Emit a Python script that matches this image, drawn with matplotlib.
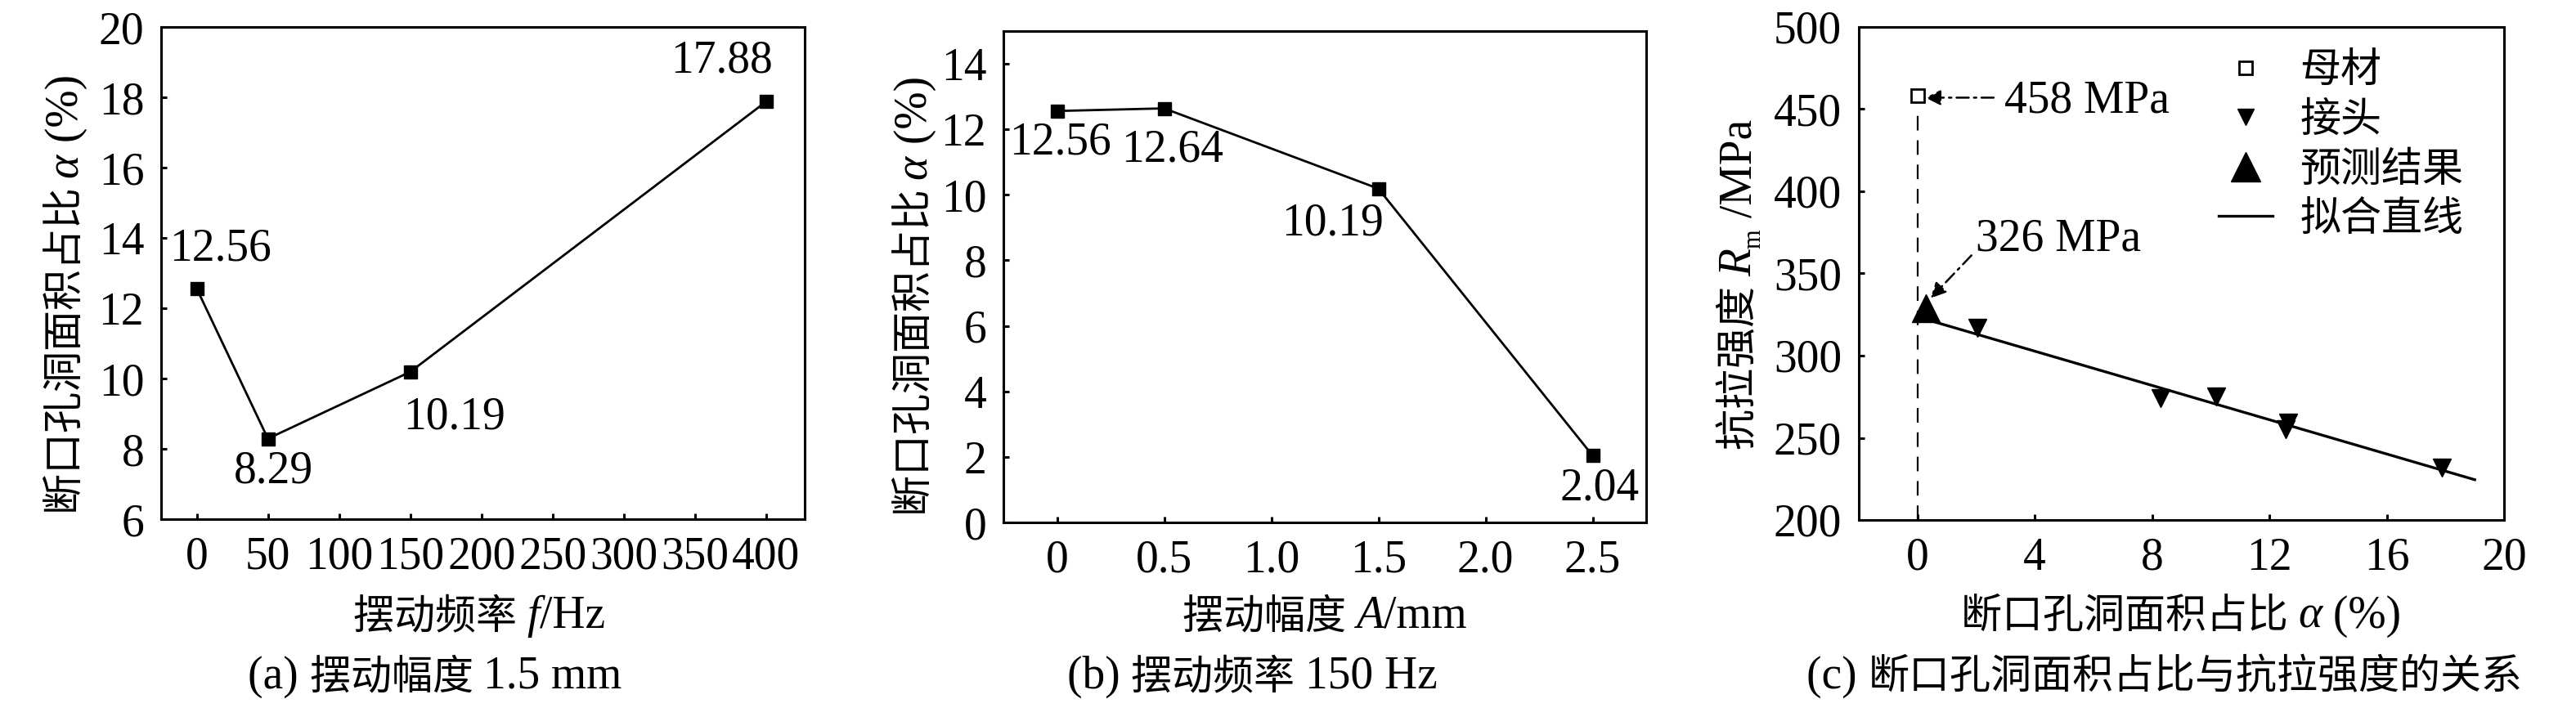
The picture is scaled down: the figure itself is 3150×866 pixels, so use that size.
import numpy as np
import matplotlib
matplotlib.use("Agg")
import matplotlib.pyplot as plt
from matplotlib.lines import Line2D
from matplotlib.transforms import IdentityTransform

# ---------------------------------------------------------------------------
# Data
# ---------------------------------------------------------------------------

# (a) swing amplitude 1.5 mm
freq_hz = [0, 50, 150, 400]
alpha_vs_freq = [12.56, 8.29, 10.19, 17.88]
freq_ticks = [0, 50, 100, 150, 200, 250, 300, 350, 400]

# (b) swing frequency 150 Hz
amp_mm = [0, 0.5, 1.5, 2.5]
alpha_vs_amp = [12.56, 12.64, 10.19, 2.04]
amp_ticks = [0, 0.5, 1.0, 1.5, 2.0, 2.5]
amp_ticklabels = ["0", "0.5", "1.0", "1.5", "2.0", "2.5"]

# (c) fracture porosity vs tensile strength
joint_alpha = [2.04, 8.29, 10.19, 12.56, 12.64, 17.88]
joint_rm = [317, 274, 275, 255, 259, 232]
base_alpha = [0.0]
base_rm = [458]
pred_alpha = [0.3]
pred_rm = [329]
fit_alpha = [0.3, 19.0]
fit_rm = [322, 224.5]
alpha_ticks = [0, 4, 8, 12, 16, 20]
rm_ticks = [200, 250, 300, 350, 400, 450, 500]

# ---------------------------------------------------------------------------
# Style
# ---------------------------------------------------------------------------

FAM = ["Liberation Serif", "Noto Sans CJK SC"]
FS = 36      # CJK text
NS = 40      # latin text and numbers
LW = 2.2
plt.rcParams["font.family"] = FAM
plt.rcParams["font.size"] = FS
plt.rcParams["axes.linewidth"] = LW

W, H = 3150, 866
fig = plt.figure(figsize=(W / 100, H / 100), dpi=100)


def add_axes_px(x0, y0, x1, y1):
    """Axes from pixel box measured from the top-left corner."""
    return fig.add_axes([x0 / W, 1 - y1 / H, (x1 - x0) / W, (y1 - y0) / H])


def style_axes(ax):
    ax.tick_params(direction="in", length=5, width=LW, pad=15,
                   top=False, right=False, labelsize=NS)


def rich_text(x, y, parts, rotation=0):
    """Draw text pieces end to end, centred on pixel (x, y) from top-left (baseline).

    kinds: "c" CJK, "n" latin, "i" latin italic, "sub" subscript.
    """
    r = fig.canvas.get_renderer()
    th = np.radians(rotation)
    d = np.array([np.cos(th), np.sin(th)])
    up = np.array([-np.sin(th), np.cos(th)])
    specs = []
    for s, kind in parts:
        kw = dict(fontsize=NS, family=FAM, fontstyle="normal")
        rise = 0.0
        if kind == "c":
            kw["fontsize"] = FS
        elif kind == "i":
            kw["fontstyle"] = "italic"
        elif kind == "sub":
            kw["fontsize"] = NS * 0.55
            rise = -NS * 0.2 * 100 / 72
        t = fig.text(0, 0, s + "|", transform=IdentityTransform(), **kw)
        w = t.get_window_extent(r).width
        t.set_text("|")
        w -= t.get_window_extent(r).width
        t.remove()
        specs.append((s, kw, rise, w))
    total = sum(sp[3] for sp in specs)
    pos = np.array([x, H - y], dtype=float) - d * total / 2
    for s, kw, rise, w in specs:
        p = pos + up * rise
        fig.text(p[0], p[1], s, transform=IdentityTransform(), rotation=rotation,
                 rotation_mode="anchor", ha="left", va="baseline", **kw)
        pos = pos + d * w


ALPHA_LABEL = [("断口孔洞面积占比 ", "c"), ("α", "i"), (" (%)", "n")]

# ---------------------------------------------------------------------------
# (a)
# ---------------------------------------------------------------------------

ax1 = add_axes_px(197, 33, 984, 635)
ax1.plot(freq_hz, alpha_vs_freq, "k-s", lw=2.0, ms=11)
ax1.set_xlim(-25, 427)
ax1.set_ylim(6, 20)
ax1.set_xticks(freq_ticks)
ax1.set_yticks(range(6, 21, 2))
style_axes(ax1)
for x, y, off in zip(freq_hz, alpha_vs_freq, [(21, 35), (5, -29), (39, -40), (-39, 36)]):
    ax1.annotate(f"{y:.2f}", (x, y), xytext=off, textcoords="offset points",
                 ha="center", va="center", fontsize=NS)

rich_text(586, 768, [("摆动频率 ", "c"), ("f", "i"), ("/Hz", "n")])
rich_text(532, 842, [("(a) ", "n"), ("摆动幅度 ", "c"), ("1.5 mm", "n")])
rich_text(95, 360, ALPHA_LABEL, rotation=90)

# ---------------------------------------------------------------------------
# (b)
# ---------------------------------------------------------------------------

ax2 = add_axes_px(1227, 38, 2013, 639)
ax2.plot(amp_mm, alpha_vs_amp, "k-s", lw=2.0, ms=11)
ax2.set_xlim(-0.25, 2.75)
ax2.set_ylim(0, 15)
ax2.set_xticks(amp_ticks, amp_ticklabels)
ax2.set_yticks(range(0, 15, 2))
style_axes(ax2)
for x, y, off in zip(amp_mm, alpha_vs_amp, [(3, -28), (7, -37), (-40, -31), (6, -29)]):
    ax2.annotate(f"{y:.2f}", (x, y), xytext=off, textcoords="offset points",
                 ha="center", va="center", fontsize=NS)

rich_text(1620, 768, [("摆动幅度 ", "c"), ("A", "i"), ("/mm", "n")])
rich_text(1531, 842, [("(b) ", "n"), ("摆动频率 ", "c"), ("150 Hz", "n")])
rich_text(1133, 362, ALPHA_LABEL, rotation=90)

# ---------------------------------------------------------------------------
# (c)
# ---------------------------------------------------------------------------

ax3 = add_axes_px(2273, 33, 3062, 636)
ax3.set_xlim(-2, 20)
ax3.set_ylim(200, 500)
ax3.set_xticks(alpha_ticks)
ax3.set_yticks(rm_ticks)
style_axes(ax3)

# dashed guide from the base metal point down to the axis
ax3.vlines(base_alpha, rm_ticks[0], np.array(base_rm) - 7, colors="k",
           linestyles=(0, (8, 5.4)), lw=1.6)
ax3.plot(fit_alpha, fit_rm, "k-", lw=2.4)
ax3.plot(joint_alpha, joint_rm, "kv", ms=16)
ax3.plot(pred_alpha, pred_rm, "k^", ms=25)
ax3.plot(base_alpha, base_rm, "s", ms=12, mfc="white", mec="k", mew=2)

arrow = dict(arrowstyle="-|>", color="k", lw=1.8, linestyle=(0, (6, 2.5, 1.2, 2.5)),
             mutation_scale=28, shrinkA=0, shrinkB=0)
ax3.annotate("", xy=(base_alpha[0] + 0.27, base_rm[0] - 1), xytext=(2.6, base_rm[0] - 1),
             arrowprops=arrow)
ax3.text(2.95, 455, "458 MPa", ha="left", va="center", fontsize=NS)
ax3.annotate("", xy=(pred_alpha[0] + 0.15, pred_rm[0] + 6), xytext=(1.84, 361),
             arrowprops=arrow)
ax3.text(2.0, 371, "326 MPa", ha="left", va="center", fontsize=NS)

handles = [
    Line2D([], [], ls="none", marker="s", ms=12, mfc="white", mec="k", mew=2),
    Line2D([], [], ls="none", marker="v", ms=14, color="k"),
    Line2D([], [], ls="none", marker="^", ms=26, color="k"),
    Line2D([], [], ls="-", lw=2.4, color="k"),
]
ax3.legend(handles, ["母材", "接头", "预测结果", "拟合直线"], loc="upper left",
           bbox_to_anchor=(0.558, 0.947), frameon=False, borderpad=0,
           borderaxespad=0, handlelength=1.32, handletextpad=0.66,
           labelspacing=0.28, fontsize=FS)

rich_text(2667, 768, ALPHA_LABEL)
rich_text(2647, 842, [("(c) ", "n"), ("断口孔洞面积占比与抗拉强度的关系", "c")])
rich_text(2141, 348, [("抗拉强度 ", "c"), ("R", "i"), ("m", "sub"), (" /MPa", "n")],
          rotation=90)

fig.savefig("out.png", dpi=100)
